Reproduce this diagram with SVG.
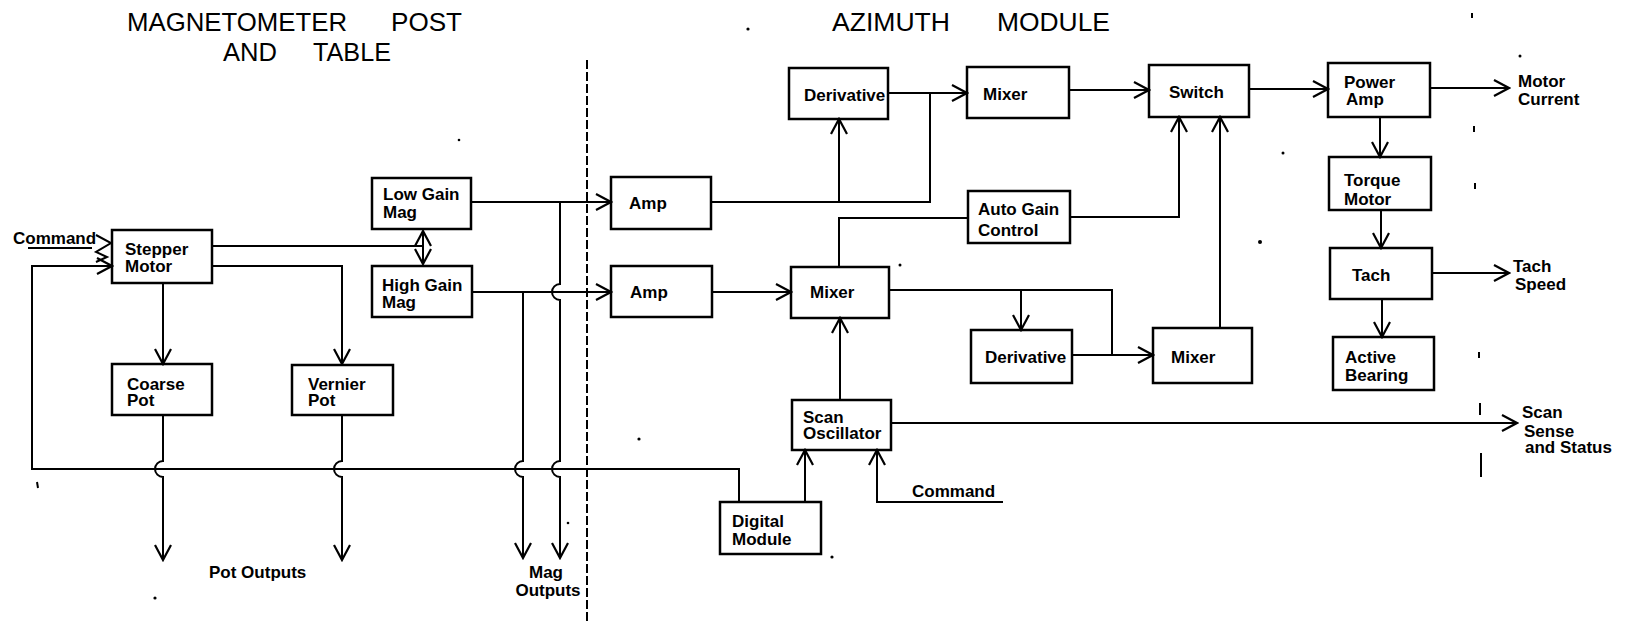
<svg xmlns="http://www.w3.org/2000/svg" width="1627" height="621" viewBox="0 0 1627 621">
<style>
.box{fill:none;stroke:#000;stroke-width:2.5}
.ln{fill:none;stroke:#000;stroke-width:2}
.ar{marker-end:url(#a)}
.t{font-family:"Liberation Sans",Arial,sans-serif;font-size:17px;font-weight:bold;fill:#000}
.ti{font-family:"Liberation Sans",Arial,sans-serif;font-size:26px;fill:#000}
.dv{fill:none;stroke:#000;stroke-width:2;stroke-dasharray:9 3}
.sp{fill:#000}
</style>
<defs>
<marker id="a" viewBox="-17 -10 19 20" refX="0" refY="0" markerWidth="19" markerHeight="20" markerUnits="userSpaceOnUse" orient="auto-start-reverse">
<path d="M-15,-8 L0,0 L-15,8" fill="none" stroke="#000" stroke-width="2.2"/>
</marker>
</defs>
<rect width="1627" height="621" fill="#fff"/>

<g id="titles">
<text class="ti" x="127" y="31" textLength="220" lengthAdjust="spacingAndGlyphs">MAGNETOMETER</text>
<text class="ti" x="391" y="31" textLength="71" lengthAdjust="spacingAndGlyphs">POST</text>
<text class="ti" x="223" y="61" textLength="54" lengthAdjust="spacingAndGlyphs">AND</text>
<text class="ti" x="313" y="61" textLength="78" lengthAdjust="spacingAndGlyphs">TABLE</text>
<text class="ti" x="832" y="31" textLength="118" lengthAdjust="spacingAndGlyphs">AZIMUTH</text>
<text class="ti" x="997" y="31" textLength="113" lengthAdjust="spacingAndGlyphs">MODULE</text>
</g>

<g id="connectors">
<path class="dv" d="M587,60 V621"/>
<path class="ln" d="M28,248 H92"/>
<path class="ln" d="M96,235 L111,243 L96,252 L107,257 L96,262"/>
<path class="ln ar" d="M739,502 V469 H32 V266 H112"/>
<path class="ln" d="M212,246 H423"/>
<path class="ln" d="M423,231 V264" marker-start="url(#a)" marker-end="url(#a)"/>
<path class="ln ar" d="M212,266 H342 V364"/>
<path class="ln ar" d="M163,283 V364"/>
<path class="ln ar" d="M163,415 V461 A8,8 0 0 0 163,477 V560"/>
<path class="ln ar" d="M342,415 V461 A8,8 0 0 0 342,477 V560"/>
<path class="ln ar" d="M471,202 H611"/>
<path class="ln ar" d="M560,202 V284 A8,8 0 0 0 560,300 V461 A8,8 0 0 0 560,477 V558"/>
<path class="ln ar" d="M472,292 H611"/>
<path class="ln ar" d="M523,292 V461 A8,8 0 0 0 523,477 V558"/>
<path class="ln ar" d="M888,93 H967"/>
<path class="ln" d="M711,202 H930 V93"/>
<path class="ln ar" d="M839,202 V119"/>
<path class="ln ar" d="M712,292 H791"/>
<path class="ln" d="M839,267 V218 H968"/>
<path class="ln ar" d="M1070,217 H1179 V117"/>
<path class="ln ar" d="M1069,90 H1149"/>
<path class="ln ar" d="M1249,89 H1328"/>
<path class="ln ar" d="M1430,88 H1509"/>
<path class="ln ar" d="M1380,117 V157"/>
<path class="ln ar" d="M1381,210 V248"/>
<path class="ln ar" d="M1432,273 H1509"/>
<path class="ln ar" d="M1382,299 V337"/>
<path class="ln" d="M889,290 H1112 V355"/>
<path class="ln ar" d="M1072,355 H1153"/>
<path class="ln ar" d="M1021,290 V330"/>
<path class="ln ar" d="M1220,328 V117"/>
<path class="ln ar" d="M840,400 V318"/>
<path class="ln ar" d="M891,423 H1517"/>
<path class="ln ar" d="M805,502 V450"/>
<path class="ln ar" d="M1003,502 H877 V450"/>
</g>

<g id="stepper"><rect class="box" x="112" y="230" width="100" height="53"/><text class="t" x="125" y="255">Stepper</text><text class="t" x="125" y="272">Motor</text></g>
<g id="lowgain"><rect class="box" x="372" y="178" width="99" height="51"/><text class="t" x="383" y="200">Low Gain</text><text class="t" x="383" y="218">Mag</text></g>
<g id="highgain"><rect class="box" x="372" y="266" width="100" height="51"/><text class="t" x="382" y="291">High Gain</text><text class="t" x="382" y="308">Mag</text></g>
<g id="coarse"><rect class="box" x="112" y="364" width="100" height="51"/><text class="t" x="127" y="390">Coarse</text><text class="t" x="127" y="406">Pot</text></g>
<g id="vernier"><rect class="box" x="292" y="365" width="101" height="50"/><text class="t" x="308" y="390">Vernier</text><text class="t" x="308" y="406">Pot</text></g>
<g id="amp1"><rect class="box" x="611" y="177" width="100" height="52"/><text class="t" x="629" y="209">Amp</text></g>
<g id="amp2"><rect class="box" x="611" y="266" width="101" height="51"/><text class="t" x="630" y="298">Amp</text></g>
<g id="derivative1"><rect class="box" x="789" y="68" width="99" height="51"/><text class="t" x="804" y="101">Derivative</text></g>
<g id="mixer1"><rect class="box" x="967" y="67" width="102" height="51"/><text class="t" x="983" y="100">Mixer</text></g>
<g id="agc"><rect class="box" x="968" y="191" width="102" height="52"/><text class="t" x="978" y="215">Auto Gain</text><text class="t" x="978" y="236">Control</text></g>
<g id="mixer2"><rect class="box" x="791" y="267" width="98" height="51"/><text class="t" x="810" y="298">Mixer</text></g>
<g id="switch"><rect class="box" x="1149" y="65" width="100" height="52"/><text class="t" x="1169" y="98">Switch</text></g>
<g id="poweramp"><rect class="box" x="1328" y="63" width="102" height="54"/><text class="t" x="1344" y="88">Power</text><text class="t" x="1346" y="105">Amp</text></g>
<g id="torque"><rect class="box" x="1329" y="157" width="102" height="53"/><text class="t" x="1344" y="186">Torque</text><text class="t" x="1344" y="205">Motor</text></g>
<g id="tach"><rect class="box" x="1330" y="248" width="102" height="51"/><text class="t" x="1352" y="281">Tach</text></g>
<g id="bearing"><rect class="box" x="1333" y="337" width="101" height="53"/><text class="t" x="1345" y="363">Active</text><text class="t" x="1345" y="381">Bearing</text></g>
<g id="derivative2"><rect class="box" x="971" y="330" width="101" height="53"/><text class="t" x="985" y="363">Derivative</text></g>
<g id="mixer3"><rect class="box" x="1153" y="328" width="99" height="55"/><text class="t" x="1171" y="363">Mixer</text></g>
<g id="scanosc"><rect class="box" x="792" y="400" width="99" height="50"/><text class="t" x="803" y="423">Scan</text><text class="t" x="803" y="439">Oscillator</text></g>
<g id="digital"><rect class="box" x="720" y="502" width="101" height="52"/><text class="t" x="732" y="527">Digital</text><text class="t" x="732" y="545">Module</text></g>

<g id="labels">
<text class="t" x="13" y="244">Command</text>
<text class="t" x="912" y="497">Command</text>
<text class="t" x="209" y="578">Pot  Outputs</text>
<text class="t" x="546" y="578" text-anchor="middle">Mag</text>
<text class="t" x="548" y="596" text-anchor="middle">Outputs</text>
<text class="t" x="1518" y="87">Motor</text>
<text class="t" x="1518" y="105">Current</text>
<text class="t" x="1513" y="272">Tach</text>
<text class="t" x="1515" y="290">Speed</text>
<text class="t" x="1522" y="418">Scan</text>
<text class="t" x="1524" y="437">Sense</text>
<text class="t" x="1525" y="453">and Status</text>
</g>

<g id="specks">
<circle class="sp" cx="748" cy="29" r="1.6"/>
<circle class="sp" cx="459" cy="140" r="1.3"/>
<circle class="sp" cx="1520" cy="56" r="1.5"/>
<circle class="sp" cx="1283" cy="153" r="1.5"/>
<circle class="sp" cx="1260" cy="242" r="2"/>
<circle class="sp" cx="900" cy="265" r="1.5"/>
<circle class="sp" cx="639" cy="439" r="1.6"/>
<circle class="sp" cx="832" cy="557" r="1.6"/>
<circle class="sp" cx="568" cy="523" r="1.3"/>
<circle class="sp" cx="155" cy="598" r="1.6"/>
<path class="ln" d="M37,482 L38,488 M1472,13 V18 M1474,126 V132 M1475,183 V189 M1479,352 V358 M1480,403 V415 M1481,453 V477" stroke-width="1.3"/>
</g>
</svg>
